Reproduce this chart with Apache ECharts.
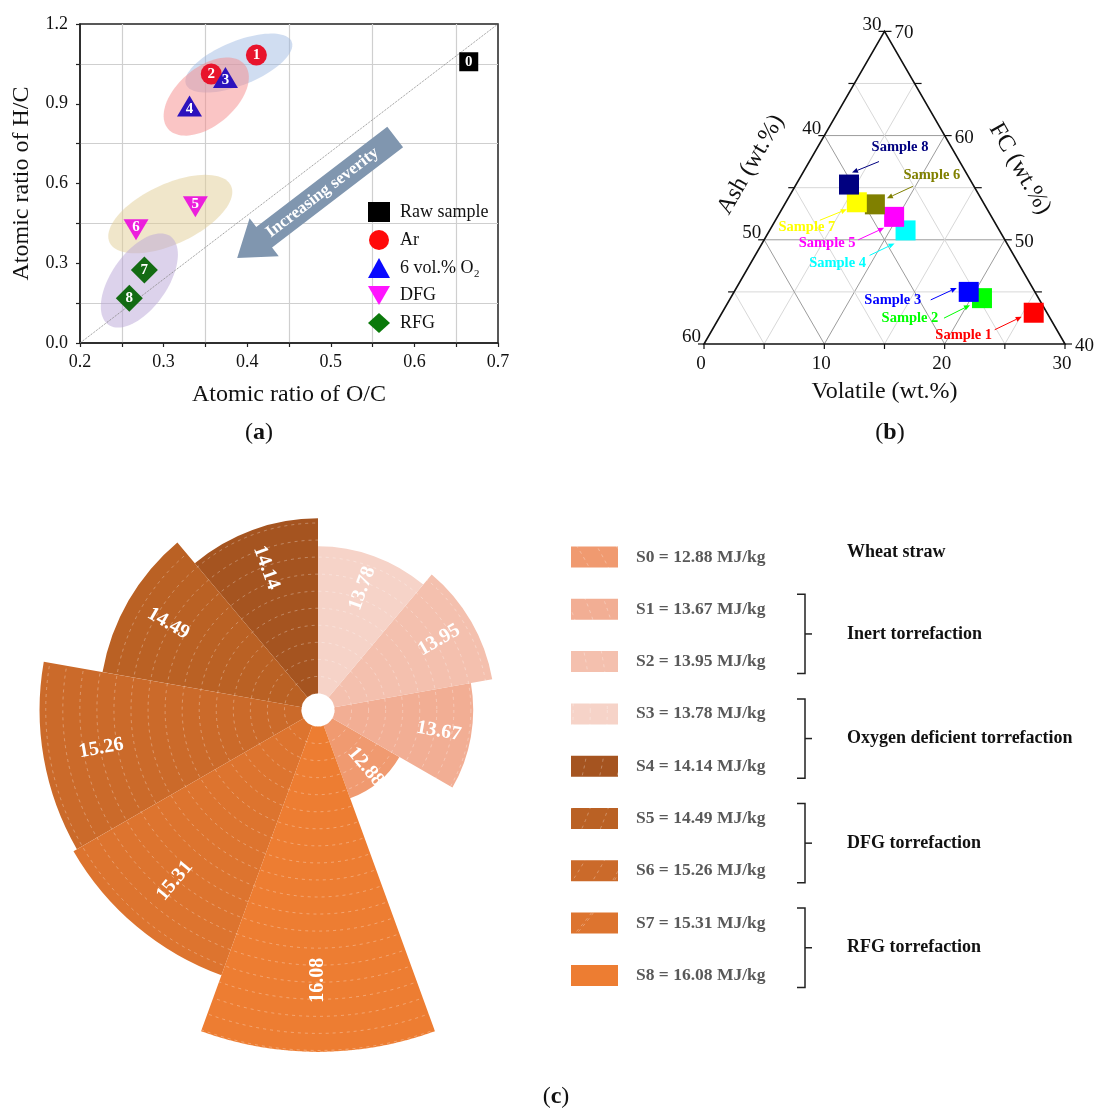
<!DOCTYPE html>
<html>
<head>
<meta charset="utf-8">
<title>Torrefaction of wheat straw</title>
<script src="https://cdn.jsdelivr.net/npm/echarts@6/dist/echarts.min.js"></script>
<style>
  html, body { margin: 0; padding: 0; background: #fff; }
  #chart { width: 1118px; height: 1112px; }
</style>
</head>
<body>
<div id="chart"></div>
<script>
// ---------- (a) van Krevelen diagram ----------
const vkNames = ['Raw sample', 'Ar', '6 vol.% O₂', 'DFG', 'RFG'];
const vkOC = [[0.665], [0.411, 0.357], [0.374, 0.331], [0.338, 0.267], [0.277, 0.259]];
const vkHC = [[1.058], [1.083, 1.012], [0.999, 0.892], [0.513, 0.426], [0.275, 0.168]];
const vkTags = [['0'], ['1', '2'], ['3', '4'], ['5', '6'], ['7', '8']];
// groups circled in the plot (centre in O/C, H/C)
const ellipseCentres = [[0.390, 1.053], [0.351, 0.927], [0.308, 0.485], [0.271, 0.235]];
const diagLine = [[0.2, 0.0], [0.7, 1.2]];
const severityArrow = [0.577, 0.775, 0.388, 0.320]; // tail O/C, H/C, tip O/C, H/C

// ---------- (b) ternary: proximate analysis ----------
const samples = ['Sample 1', 'Sample 2', 'Sample 3', 'Sample 4', 'Sample 5', 'Sample 6', 'Sample 7', 'Sample 8'];
const volatile = [25.9, 20.9, 19.5, 11.3, 9.7, 7.5, 5.9, 4.4];
const ash = [31.1, 34.7, 35.5, 37.8, 38.1, 39.1, 40.5, 40.3];
const fixedCarbon = [43.0, 44.4, 45.0, 50.9, 52.2, 53.4, 53.6, 55.3];
const volTicks = [0, 5, 10, 15, 20, 25, 30];
const ashTicks = [30, 35, 40, 45, 50, 55, 60];
const fcTicks = [40, 45, 50, 55, 60, 65, 70];

// ---------- (c) HHV rose ----------
const hhvNames = ['S0', 'S1', 'S2', 'S3', 'S4', 'S5', 'S6', 'S7', 'S8'];
const hhvValues = [12.88, 13.67, 13.95, 13.78, 14.14, 14.49, 15.26, 15.31, 16.08];
const hhvGroups = [
  ['Wheat straw', [0]],
  ['Inert torrefaction', [1, 2]],
  ['Oxygen deficient torrefaction', [3, 4]],
  ['DFG torrefaction', [5, 6]],
  ['RFG torrefaction', [7, 8]]
];

// ---------- styles ----------
const FONT = 'Liberation Serif';
const downTri = 'path://M0,0 L10,0 L5,8.66 Z';
const vkMarks = [
  { symbol: 'rect', size: 19, color: '#000000', legend: '#000000', offset: [0, 0] },
  { symbol: 'circle', size: 21, color: '#e8142c', legend: '#ff0a0a', offset: [0, 0] },
  { symbol: 'triangle', size: [25, 21], color: '#2c12bd', legend: '#0a0aff', offset: [0, 3] },
  { symbol: downTri, size: [25, 21], color: '#ec1fdc', legend: '#ff14ff', offset: [0, -3] },
  { symbol: 'diamond', size: 27, color: '#136b13', legend: '#0a790a', offset: [0, 0] }
];
// semi axes (px), tilt (deg), fill
const ellipseLook = [
  [57, 22, 22, 'rgba(150,180,225,0.45)'],
  [50, 29, 40, 'rgba(245,140,140,0.5)'],
  [67, 30, 25, 'rgba(225,205,150,0.5)'],
  [54, 28, 55, 'rgba(185,165,215,0.5)']
];
const sampleColors = ['#ff0000', '#00ff00', '#0000ff', '#00ffff', '#ff00ff', '#808000', '#ffff00', '#000080'];
// label centre, arrow start, arrow end (px offsets from the marker)
const sampleTags = [
  [[-70, 23], [-39, 17], [-12, 4]],
  [[-72, 20], [-38, 20], [-12, 7]],
  [[-76, 8], [-38, 8], [-12, -4]],
  [[-68, 33], [-36, 25], [-11, 13]],
  [[-67, 26], [-36, 23], [-10, 11]],
  [[57, -29], [38, -18], [12, -6]],
  [[-50, 25], [-37, 18], [-10, 7]],
  [[51, -37], [30, -23], [3, -12]]
];
const hhvColors = ['#f09a70', '#f2ae94', '#f4c0ae', '#f6d3c8', '#a55420', '#ba6124', '#cb6a2a', '#dd742f', '#ed7d32'];
const rMin = 11.88, rMax = 16.08;
const legC = { left: 566, top: 541.5, w: 47, h: 21, gap: 31.3 };

const SQ3 = Math.sqrt(3) / 2;
function ternXY(vol, fc) {
  return [vol - volTicks[0] + (fc - fcTicks[0]) / 2, (fc - fcTicks[0]) * SQ3];
}

const chart = echarts.init(document.getElementById('chart'));

// ---- (a) series ----
const vkSeries = vkNames.map((name, i) => ({
  name: name,
  type: 'scatter',
  xAxisIndex: 0, yAxisIndex: 0,
  symbol: vkMarks[i].symbol,
  symbolSize: vkMarks[i].size,
  itemStyle: { color: vkMarks[i].color, opacity: 1 },
  z: 5,
  label: {
    show: true, position: 'inside', formatter: '{b}', offset: vkMarks[i].offset,
    color: '#fff', fontWeight: 'bold', fontSize: 15, fontFamily: FONT
  },
  data: vkOC[i].map((x, j) => ({ name: vkTags[i][j], value: [x, vkHC[i][j]] }))
}));

const ellipseSeries = {
  type: 'custom', xAxisIndex: 0, yAxisIndex: 0, z: 1, silent: true,
  data: ellipseCentres,
  renderItem: (params, api) => {
    const c = api.coord([api.value(0), api.value(1)]);
    const [a, b, deg, fill] = ellipseLook[params.dataIndex];
    const th = deg * Math.PI / 180;
    const pts = [];
    for (let k = 0; k < 90; k++) {
      const t = k / 90 * 2 * Math.PI;
      const ex = a * Math.cos(t), ey = b * Math.sin(t);
      pts.push([c[0] + ex * Math.cos(th) - ey * Math.sin(th), c[1] - (ex * Math.sin(th) + ey * Math.cos(th))]);
    }
    return { type: 'polygon', shape: { points: pts }, style: { fill: fill } };
  }
};

const arrowSeries = {
  type: 'custom', xAxisIndex: 0, yAxisIndex: 0, z: 3, silent: true,
  data: [severityArrow],
  renderItem: (params, api) => {
    const p0 = api.coord([api.value(0), api.value(1)]);
    const p1 = api.coord([api.value(2), api.value(3)]);
    const dx = p1[0] - p0[0], dy = p1[1] - p0[1];
    const L = Math.hypot(dx, dy);
    const u = [dx / L, dy / L], n = [-u[1], u[0]];
    const bw = 13, hw = 24, hl = 34;
    const base = [p1[0] - u[0] * hl, p1[1] - u[1] * hl];
    const off = (p, s) => [p[0] + n[0] * s, p[1] + n[1] * s];
    const pts = [off(p0, bw), off(base, bw), off(base, hw), p1, off(base, -hw), off(base, -bw), off(p0, -bw)];
    const mid = [(p0[0] + base[0]) / 2 + u[0] * 9, (p0[1] + base[1]) / 2 + u[1] * 9];
    return {
      type: 'group',
      children: [
        { type: 'polygon', shape: { points: pts }, style: { fill: '#8096af' } },
        {
          type: 'text', x: mid[0], y: mid[1], rotation: Math.atan2(dy, -dx),
          style: { text: 'Increasing severity', align: 'center', verticalAlign: 'middle',
            fill: '#fff', fontSize: 17, fontWeight: 'bold', fontFamily: FONT }
        }
      ]
    };
  }
};

// ---- (b) series ----
const ternFrame = {
  type: 'custom', xAxisIndex: 1, yAxisIndex: 1, z: 1, silent: true,
  data: [[0, 0]],
  renderItem: (params, api) => {
    const P = (v, f) => api.coord(ternXY(v, f));
    const kids = [];
    const fc0 = fcTicks[0], ash0 = ashTicks[0];
    const seg = (a, b, stroke, w) => kids.push({ type: 'line',
      shape: { x1: a[0], y1: a[1], x2: b[0], y2: b[1] }, style: { stroke: stroke, lineWidth: w } });
    const txt = (p, text, align, va, size, rot) => kids.push({ type: 'text', x: p[0], y: p[1], rotation: rot || 0,
      style: { text: text, align: align, verticalAlign: va, fill: '#111', fontSize: size, fontFamily: FONT } });
    const gc = v => v % 10 === 0 ? '#9c9c9c' : '#d8d8d8';
    fcTicks.slice(1, -1).forEach(f => seg(P(0, f), P(100 - ash0 - f, f), gc(f), 1));
    volTicks.slice(1, -1).forEach(v => seg(P(v, fc0), P(v, 100 - ash0 - v), gc(v), 1));
    ashTicks.slice(1, -1).forEach(a => seg(P(100 - a - fc0, fc0), P(0, 100 - a), gc(a), 1));
    const A = P(0, fc0), B = P(volTicks[volTicks.length - 1], fc0), C = P(0, fcTicks[fcTicks.length - 1]);
    kids.push({ type: 'polygon', shape: { points: [A, B, C] }, style: { fill: 'none', stroke: '#111', lineWidth: 1.6 } });
    volTicks.forEach(v => { const p = P(v, fc0); seg(p, [p[0], p[1] + 5], '#111', 1.2); });
    fcTicks.forEach(f => { const p = P(100 - ash0 - f, f); seg(p, [p[0] + 7, p[1]], '#111', 1.2); });
    ashTicks.forEach(a => { const p = P(0, 100 - a); seg(p, [p[0] - 6, p[1]], '#111', 1.2); });
    volTicks.filter(v => v % 10 === 0).forEach(v => { const p = P(v, fc0); txt([p[0] - 3, p[1] + 11], String(v), 'center', 'top', 19); });
    fcTicks.filter(f => f % 10 === 0).forEach(f => { const p = P(100 - ash0 - f, f); txt([p[0] + 10, p[1] + 2], String(f), 'left', 'middle', 19); });
    ashTicks.filter(a => a % 10 === 0).forEach(a => { const p = P(0, 100 - a); txt([p[0] - 3, p[1] + 3], String(a), 'right', 'bottom', 19); });
    const midB = P(15, fc0), midL = P(0, 55), midR = P(15, 55);
    txt([midB[0], midB[1] + 36], 'Volatile (wt.%)', 'center', 'top', 24);
    txt([midL[0] - 50 * SQ3, midL[1] - 23], 'Ash (wt.%)', 'center', 'middle', 24, Math.PI / 3);
    txt([midR[0] + 52 * SQ3, midR[1] - 19], 'FC (wt.%)', 'center', 'middle', 24, -Math.PI / 3);
    return { type: 'group', children: kids };
  }
};

const samplePoints = samples.map((s, i) => ternXY(volatile[i], fixedCarbon[i]));

const sampleSeries = {
  type: 'scatter', xAxisIndex: 1, yAxisIndex: 1, z: 3,
  symbol: 'rect', symbolSize: 20,
  data: samplePoints.map((p, i) => ({ name: samples[i], value: p, itemStyle: { color: sampleColors[i], opacity: 1 } }))
};

const sampleLabelSeries = {
  type: 'custom', xAxisIndex: 1, yAxisIndex: 1, z: 4, silent: true,
  data: samplePoints,
  renderItem: (params, api) => {
    const i = params.dataIndex;
    const p = api.coord([api.value(0), api.value(1)]);
    const [lo, s0, s1] = sampleTags[i];
    const a = [p[0] + s0[0], p[1] + s0[1]], b = [p[0] + s1[0], p[1] + s1[1]];
    const L = Math.hypot(b[0] - a[0], b[1] - a[1]);
    const u = [(b[0] - a[0]) / L, (b[1] - a[1]) / L], n = [-u[1], u[0]];
    const hb = [b[0] - u[0] * 6, b[1] - u[1] * 6];
    const col = sampleColors[i];
    return {
      type: 'group',
      children: [
        { type: 'line', shape: { x1: a[0], y1: a[1], x2: hb[0], y2: hb[1] }, style: { stroke: col, lineWidth: 1 } },
        { type: 'polygon', shape: { points: [b, [hb[0] + n[0] * 2.6, hb[1] + n[1] * 2.6], [hb[0] - n[0] * 2.6, hb[1] - n[1] * 2.6]] }, style: { fill: col } },
        { type: 'text', x: p[0] + lo[0], y: p[1] + lo[1],
          style: { text: samples[i], align: 'center', verticalAlign: 'middle', fill: col,
            fontSize: 14.5, fontWeight: 'bold', fontFamily: FONT } }
      ]
    };
  }
};

// ---- (c) series ----
const hhvSeries = hhvNames.map((name, i) => ({
  name: name,
  type: 'bar',
  coordinateSystem: 'polar',
  polarIndex: 0,
  barGap: '-100%',
  barCategoryGap: '0%',
  z: 2,
  itemStyle: { color: hhvColors[i] },
  data: hhvValues.map((v, j) => (j === i ? v : '-'))
}));

const hhvLabelSeries = {
  type: 'custom', coordinateSystem: 'polar', polarIndex: 0, z: 6, silent: true,
  data: hhvValues.map((v, i) => [v, i]),
  renderItem: (params, api) => {
    const cs = params.coordSys;
    const v = api.value(0);
    const tip = api.coord([v, api.value(1)]);
    const p = [cs.cx + 0.79 * (tip[0] - cs.cx), cs.cy + 0.79 * (tip[1] - cs.cy)];
    let th = Math.atan2(-(p[1] - cs.cy), p[0] - cs.cx);
    if (Math.abs(th) > Math.PI / 2 - 1e-3) th = th > 0 ? th - Math.PI : th + Math.PI;
    return {
      type: 'text', x: p[0], y: p[1], rotation: th,
      style: { text: v.toFixed(2), align: 'center', verticalAlign: 'middle', fill: '#fff',
        fontSize: 20, fontWeight: 'bold', fontFamily: FONT }
    };
  }
};

// ---- graphic: panel letters, group brackets ----
const graphic = [];
[['a', 259, 433], ['b', 890, 433], ['c', 556, 1097]].forEach(([t, x, y]) => graphic.push({
  type: 'text', x: x, y: y,
  style: { text: '({b|' + t + '})', align: 'center', verticalAlign: 'middle', fill: '#111',
    fontSize: 24, fontFamily: FONT, rich: { b: { fontSize: 24, fontWeight: 'bold', fontFamily: FONT, fill: '#111' } } }
}));
const rowY = i => legC.top + legC.h / 2 + i * (legC.h + legC.gap);
hhvGroups.forEach(([label, members]) => {
  let y = rowY(members[0]);
  if (members.length > 1) {
    const top = rowY(members[0]) - 10, bot = rowY(members[members.length - 1]) + 17;
    y = (top + bot) / 2;
    graphic.push({ type: 'polyline', shape: { points: [[797, top], [805, top], [805, bot], [797, bot]] },
      style: { stroke: '#222', lineWidth: 1.5, fill: null } });
    graphic.push({ type: 'line', shape: { x1: 805, y1: y, x2: 812, y2: y }, style: { stroke: '#222', lineWidth: 1.5 } });
  }
  graphic.push({ type: 'text', x: 847, y: y,
    style: { text: label, align: 'left', verticalAlign: 'middle', fill: '#111',
      fontSize: 18, fontWeight: 'bold', fontFamily: FONT } });
});

const axisCommon = {
  axisLine: { show: true, lineStyle: { color: '#222', width: 1.5 } },
  axisTick: { show: true, inside: false, length: 4, lineStyle: { color: '#222', width: 1.2 } },
  minorTick: { show: true, splitNumber: 2, length: 4, lineStyle: { color: '#222', width: 1.2 } },
  splitLine: { show: false },
  minorSplitLine: { show: true, lineStyle: { color: '#cfcfcf', width: 1.2 } },
  nameLocation: 'middle',
  nameTextStyle: { fontSize: 24, color: '#111', fontFamily: FONT }
};

const option = {
  animation: false,
  backgroundColor: '#fff',
  textStyle: { fontFamily: FONT },
  grid: [
    { left: 80, top: 24, width: 418, height: 319, show: true, borderColor: '#222', borderWidth: 1.5 },
    { left: 704, top: 344 - 361 * SQ3, width: 361, height: 361 * SQ3, show: false }
  ],
  xAxis: [
    Object.assign({}, axisCommon, {
      gridIndex: 0, type: 'value', min: 0.2, max: 0.7, interval: 0.1,
      name: 'Atomic ratio of O/C', nameGap: 40,
      axisLabel: { formatter: v => v.toFixed(1), fontSize: 18, color: '#111', fontFamily: FONT, margin: 10 }
    }),
    { gridIndex: 1, type: 'value', min: volTicks[0], max: volTicks[volTicks.length - 1], show: false }
  ],
  yAxis: [
    Object.assign({}, axisCommon, {
      gridIndex: 0, type: 'value', min: 0, max: 1.2, interval: 0.3,
      name: 'Atomic ratio of H/C', nameGap: 46,
      axisLabel: { formatter: v => v.toFixed(1), fontSize: 18, color: '#111', fontFamily: FONT, margin: 12 }
    }),
    { gridIndex: 1, type: 'value', min: 0, max: (fcTicks[fcTicks.length - 1] - fcTicks[0]) * SQ3, show: false }
  ],
  polar: { center: [318, 710], radius: [16.5, 342] },
  angleAxis: {
    type: 'category', data: hhvNames, startAngle: -70, clockwise: false,
    axisLine: { show: false }, axisTick: { show: false }, axisLabel: { show: false }, splitLine: { show: false }
  },
  radiusAxis: {
    type: 'value', min: rMin, max: rMax, interval: 0.22, z: 5,
    axisLine: { show: false }, axisTick: { show: false }, axisLabel: { show: false },
    splitLine: { show: true, lineStyle: { color: 'rgba(255,255,255,0.3)', type: [3, 4], width: 1 } }
  },
  legend: [
    {
      orient: 'vertical', left: 363, top: 197, itemWidth: 22, itemHeight: 20, itemGap: 8,
      selectedMode: false,
      data: vkNames.map((n, i) => ({ name: n, icon: vkMarks[i].symbol, itemStyle: { color: vkMarks[i].legend } })),
      textStyle: { fontSize: 18, color: '#111', fontFamily: FONT, padding: [0, 0, 0, 5] }
    },
    {
      orient: 'vertical', left: legC.left, top: legC.top, itemWidth: legC.w, itemHeight: legC.h, itemGap: legC.gap,
      selectedMode: false, icon: 'rect',
      data: hhvNames,
      formatter: name => name + ' = ' + hhvValues[hhvNames.indexOf(name)].toFixed(2) + ' MJ/kg',
      textStyle: { fontSize: 17.5, fontWeight: 'bold', color: '#595959', fontFamily: FONT, padding: [0, 0, 0, 13] }
    }
  ],
  graphic: graphic,
  series: [
    ellipseSeries,
    { type: 'line', xAxisIndex: 0, yAxisIndex: 0, data: diagLine, symbol: 'none', z: 2, silent: true,
      lineStyle: { color: '#8a8a8a', width: 1, type: 'dotted' } },
    arrowSeries
  ].concat(vkSeries, [ternFrame, sampleSeries, sampleLabelSeries], hhvSeries, [hhvLabelSeries])
};

chart.setOption(option);
</script>
</body>
</html>
